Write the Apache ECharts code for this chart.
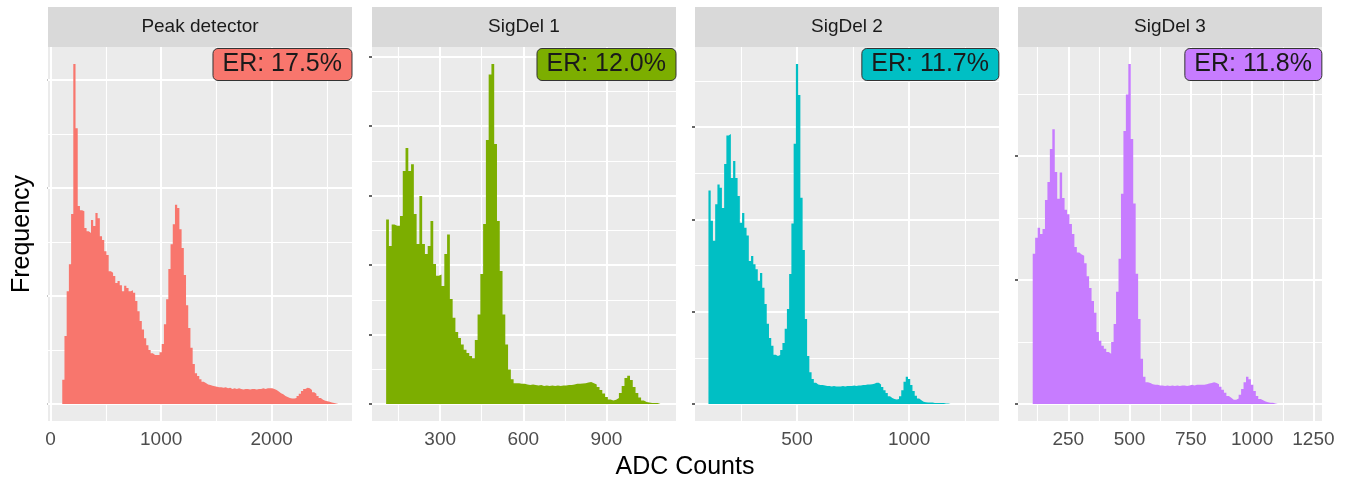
<!DOCTYPE html>
<html>
<head>
<meta charset="utf-8">
<title>ADC count histograms</title>
<script src="https://cdn.jsdelivr.net/npm/echarts@6.0.0/dist/echarts.min.js"></script>
<style>
  html, body { margin: 0; padding: 0; background: #fff; }
  #chart { width: 1355px; height: 484px; }
</style>
</head>
<body>
<div id="chart"></div>
<script>
// Facets, left to right
const panelTitles = ['Peak detector', 'SigDel 1', 'SigDel 2', 'SigDel 3'];
const errorRates = ['17.5%', '12.0%', '11.7%', '11.8%'];
const fillColors = ['#F8766D', '#7CAE00', '#00BFC4', '#C77CFF'];

// Histogram bins: first bin edge and bin width (ADC counts)
const binStarts = [105, 105, 105, 105];
const binWidths = [20, 10, 10, 10];

// Bin counts
const peakDetectorCounts = [
    45, 126, 209, 259, 352, 630, 511, 367, 359, 357,
    326, 320, 317, 341, 330, 354, 344, 311, 304, 283,
    276, 246, 243, 237, 224, 228, 220, 209, 219, 215,
    209, 211, 206, 191, 172, 154, 138, 122, 109, 100,
    94, 91, 91, 91, 96, 111, 148, 194, 250, 296,
    333, 369, 363, 324, 289, 239, 183, 141, 104, 74,
    57, 52, 46, 41, 39, 36, 35, 34, 33, 32,
    31, 31, 30, 31, 29, 30, 28, 29, 28, 29,
    28, 27, 28, 28, 27, 28, 28, 27, 28, 28,
    29, 28, 29, 29, 29, 28, 26, 23, 20, 18,
    15, 13, 11, 10, 10, 11, 15, 19, 24, 28,
    30, 29, 26, 22, 19, 15, 11, 8, 6, 5,
    4, 3, 2, 1, 1
];
const sigDel1Counts = [
    531, 455, 517, 513, 513, 541, 671, 737, 671, 690,
    547, 461, 599, 461, 432, 455, 527, 403, 369, 373,
    340, 432, 488, 302, 248, 207, 190, 171, 156, 147,
    138, 132, 184, 258, 374, 518, 760, 949, 979, 749,
    527, 383, 258, 171, 99, 71, 60, 60, 58, 58,
    56, 55, 56, 55, 53, 55, 52, 53, 52, 53,
    52, 53, 52, 53, 53, 55, 55, 56, 58, 58,
    59, 60, 62, 63, 60, 56, 49, 40, 30, 20,
    13, 10, 12, 17, 32, 52, 75, 81, 69, 49,
    32, 19, 10, 6, 4, 3, 3, 3, 3
];
const sigDel2Counts = [
    463, 397, 354, 433, 476, 469, 425, 520, 582, 585,
    490, 527, 490, 451, 393, 414, 382, 365, 310, 321,
    303, 292, 267, 284, 252, 217, 174, 143, 126, 107,
    104, 106, 117, 132, 163, 206, 282, 391, 564, 737,
    670, 447, 334, 184, 104, 69, 54, 46, 42, 41,
    41, 40, 39, 39, 38, 39, 38, 38, 38, 39,
    38, 39, 39, 39, 40, 39, 40, 40, 41, 41,
    42, 42, 43, 44, 46, 46, 42, 37, 30, 24,
    17, 13, 11, 10, 11, 17, 30, 48, 59, 54,
    41, 28, 18, 12, 8, 5, 4, 3, 3, 3,
    2, 2, 2, 2, 2, 1, 1, 1
];
const sigDel3Counts = [
    242, 268, 284, 274, 282, 329, 358, 411, 443, 374,
    331, 373, 332, 313, 306, 290, 274, 253, 244, 241,
    239, 227, 206, 187, 166, 147, 116, 102, 94, 89,
    84, 81, 100, 129, 181, 234, 339, 440, 499, 548,
    427, 323, 210, 137, 73, 44, 35, 34, 32, 31,
    31, 30, 30, 29, 30, 29, 30, 29, 30, 29,
    30, 30, 29, 30, 31, 30, 31, 31, 31, 31,
    32, 33, 34, 35, 34, 32, 28, 23, 18, 13,
    10, 7, 7, 9, 15, 24, 35, 44, 40, 31,
    21, 13, 8, 6, 4, 3, 2, 2, 1, 1
];
const allCounts = [peakDetectorCounts, sigDel1Counts, sigDel2Counts, sigDel3Counts];

// x axis limits and tick values per facet
const xLimits = [[-24, 2727], [54, 1151], [45, 1401], [45, 1285]];
const xMajorTicks = [[0, 1000, 2000], [300, 600, 900], [500, 1000], [250, 500, 750, 1000, 1250]];
const xMinorTicks = [[500, 1500, 2500], [150, 450, 750, 1050], [250, 750, 1250], [125, 375, 625, 875, 1125]];
const yMajorStep = 200;

// Layout
const FONT = "'Liberation Sans', Arial, sans-serif";
const panelLefts = [48, 372, 695, 1018];
const panelWidth = 304;
const panelTop = 47;
const panelBottom = 421;
const chartWidth = 1355;

const chart = echarts.init(document.getElementById('chart'));

const grids = [], xAxes = [], yAxes = [], series = [], titles = [];
const graphics = [
    {
        type: 'text', x: 685, y: 467,
        style: { text: 'ADC Counts', fill: '#000', fontSize: 25, fontFamily: FONT, align: 'center', verticalAlign: 'middle' }
    },
    {
        type: 'text', x: 22, y: 234, rotation: Math.PI / 2,
        style: { text: 'Frequency', fill: '#000', fontSize: 25, fontFamily: FONT, align: 'center', verticalAlign: 'middle' }
    }
];

panelTitles.forEach(function (name, i) {
    const counts = allCounts[i];
    const start = binStarts[i];
    const width = binWidths[i];
    const peak = Math.max.apply(null, counts);
    // ggplot style 5% expansion around [0, peak]
    const yMin = -0.05 * peak;
    const yMax = 1.05 * peak;

    const points = counts.map(function (c, k) { return [start + k * width, c]; });
    points.push([start + counts.length * width, 0]);

    const yMajor = [];
    const gridLines = [];
    xMinorTicks[i].forEach(function (v) { gridLines.push({ xAxis: v, lineStyle: { width: 1.1 } }); });
    for (let v = yMajorStep / 2; v <= yMax; v += yMajorStep) {
        gridLines.push({ yAxis: v, lineStyle: { width: 1.1 } });
    }
    xMajorTicks[i].forEach(function (v) { gridLines.push({ xAxis: v, lineStyle: { width: 2 } }); });
    for (let v = 0; v <= yMax; v += yMajorStep) {
        yMajor.push(v);
        gridLines.push({ yAxis: v, lineStyle: { width: 2 } });
    }

    grids.push({
        left: panelLefts[i],
        width: panelWidth,
        top: panelTop,
        height: panelBottom - panelTop,
        show: true,
        backgroundColor: '#ebebeb',
        borderWidth: 0,
        containLabel: false,
        outerBoundsMode: 'none'
    });

    xAxes.push({
        type: 'value',
        gridIndex: i,
        min: xLimits[i][0],
        max: xLimits[i][1],
        axisLine: { show: false },
        axisTick: { show: true, customValues: xMajorTicks[i], length: 5, lineStyle: { color: '#333', width: 2 } },
        axisLabel: {
            customValues: xMajorTicks[i],
            formatter: function (v) { return String(v); },
            color: '#4d4d4d', fontSize: 19, fontFamily: FONT, margin: 9
        },
        splitLine: { show: false }
    });

    yAxes.push({
        type: 'value',
        gridIndex: i,
        min: yMin,
        max: yMax,
        axisLine: { show: false },
        axisLabel: { show: false },
        axisTick: { show: true, customValues: yMajor, length: 3, lineStyle: { color: '#333', width: 1.5 } },
        splitLine: { show: false }
    });

    series.push({
        name: name,
        type: 'line',
        xAxisIndex: i,
        yAxisIndex: i,
        data: points,
        step: 'end',
        symbol: 'none',
        silent: true,
        z: 3,
        lineStyle: { width: 0 },
        areaStyle: { color: fillColors[i], opacity: 1 },
        markLine: {
            silent: true,
            z: 1,
            symbol: ['none', 'none'],
            label: { show: false },
            lineStyle: { color: '#ffffff', type: 'solid' },
            data: gridLines
        }
    });

    // facet strip
    graphics.push({
        type: 'rect',
        shape: { x: panelLefts[i], y: 7, width: panelWidth, height: 40 },
        style: { fill: '#d9d9d9' }
    });
    graphics.push({
        type: 'text',
        x: panelLefts[i] + panelWidth / 2,
        y: 27,
        style: { text: name, fill: '#1a1a1a', fontSize: 19, fontFamily: FONT, align: 'center', verticalAlign: 'middle' }
    });

    // error-rate label in the top right corner
    titles.push({
        text: 'ER: ' + errorRates[i],
        right: chartWidth - panelLefts[i] - panelWidth,
        top: panelTop + 1,
        backgroundColor: fillColors[i],
        borderColor: '#333',
        borderWidth: 1,
        borderRadius: 5,
        padding: [3, 10, 3, 10],
        textStyle: { fontSize: 25, fontWeight: 'normal', color: '#1a1a1a', fontFamily: FONT, lineHeight: 27 }
    });
});

chart.setOption({
    animation: false,
    backgroundColor: '#ffffff',
    title: titles,
    grid: grids,
    xAxis: xAxes,
    yAxis: yAxes,
    series: series,
    graphic: graphics
});

window.addEventListener('resize', function () {
    chart.resize();
});
</script>
</body>
</html>
